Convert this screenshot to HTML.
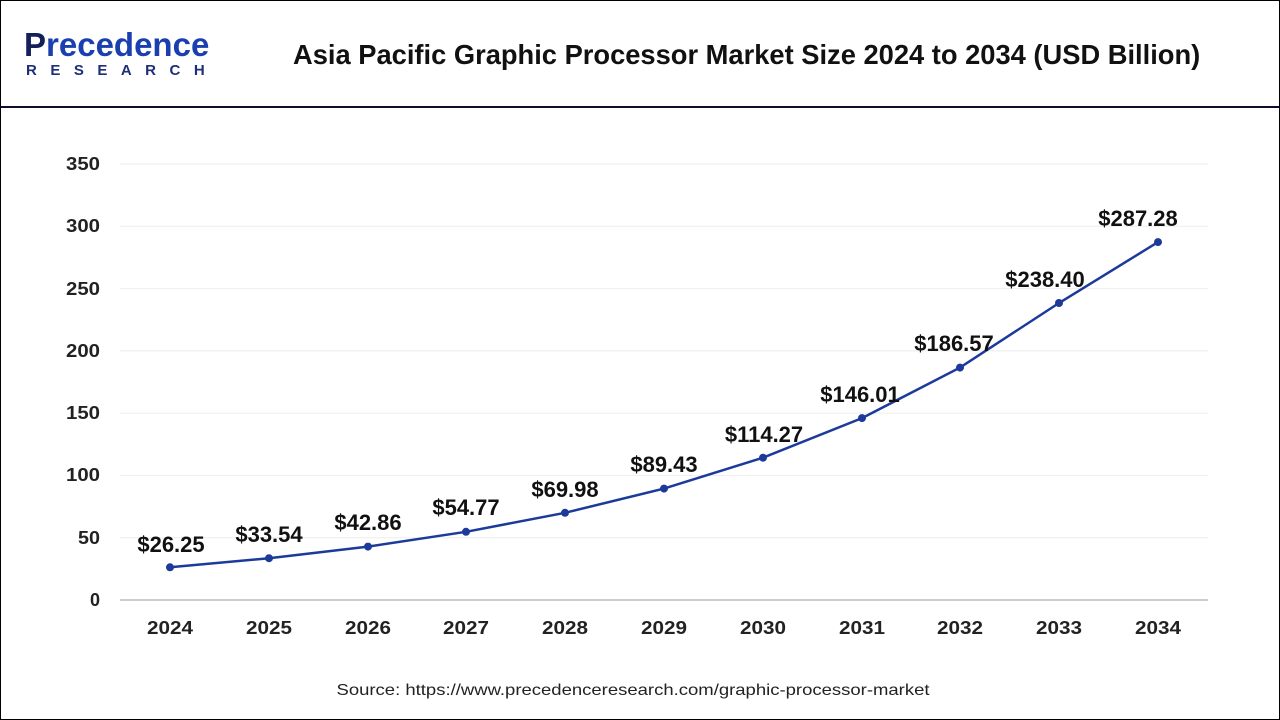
<!DOCTYPE html>
<html><head><meta charset="utf-8"><style>
body{margin:0;width:1280px;height:720px;background:#fff;font-family:"Liberation Sans",Arial,sans-serif;overflow:hidden}
.frame{position:absolute;left:0;top:0;width:1278px;height:718px;border:1px solid #000}
</style></head><body>
<div class="frame"></div>
<div style="position:absolute;left:1px;top:106px;width:1278px;height:2px;background:#0d0d2e"></div>
<div style="position:absolute;left:24px;top:28px;font-size:33px;font-weight:bold;color:#1a3fae;line-height:34px"><span style="color:#14205a">P</span>recedence</div>
<div style="position:absolute;left:26px;top:62px;font-size:15px;font-weight:bold;color:#1e2f7a;letter-spacing:13.5px">RESEARCH</div>
<div style="position:absolute;left:293px;top:39px;font-size:27.3px;font-weight:bold;color:#111;white-space:nowrap">Asia Pacific Graphic Processor Market Size 2024 to 2034 (USD Billion)</div>
<svg width="1280" height="720" style="position:absolute;left:0;top:0" font-family="Liberation Sans,Arial,sans-serif">
<g stroke="#eee" stroke-width="1">
<line x1="120" x2="1208" y1="164" y2="164"/><line x1="120" x2="1208" y1="226.3" y2="226.3"/><line x1="120" x2="1208" y1="288.6" y2="288.6"/><line x1="120" x2="1208" y1="350.9" y2="350.9"/><line x1="120" x2="1208" y1="413.1" y2="413.1"/><line x1="120" x2="1208" y1="475.4" y2="475.4"/><line x1="120" x2="1208" y1="537.7" y2="537.7"/>
</g>
<line x1="120" x2="1208" y1="600" y2="600" stroke="#bbb" stroke-width="1.5"/>
<g font-size="18" font-weight="bold" fill="#222" text-anchor="end" lengthAdjust="spacingAndGlyphs">
<text x="100" y="170" textLength="34" lengthAdjust="spacingAndGlyphs">350</text><text x="100" y="232" textLength="34" lengthAdjust="spacingAndGlyphs">300</text><text x="100" y="295" textLength="34" lengthAdjust="spacingAndGlyphs">250</text><text x="100" y="357" textLength="34" lengthAdjust="spacingAndGlyphs">200</text><text x="100" y="419" textLength="34" lengthAdjust="spacingAndGlyphs">150</text><text x="100" y="481" textLength="34" lengthAdjust="spacingAndGlyphs">100</text><text x="100" y="544" textLength="22" lengthAdjust="spacingAndGlyphs">50</text><text x="100" y="606">0</text>
</g>
<g font-size="18" font-weight="bold" fill="#222" text-anchor="middle">
<text x="170" y="634" textLength="46" lengthAdjust="spacingAndGlyphs">2024</text><text x="269" y="634" textLength="46" lengthAdjust="spacingAndGlyphs">2025</text><text x="368" y="634" textLength="46" lengthAdjust="spacingAndGlyphs">2026</text><text x="466" y="634" textLength="46" lengthAdjust="spacingAndGlyphs">2027</text><text x="565" y="634" textLength="46" lengthAdjust="spacingAndGlyphs">2028</text><text x="664" y="634" textLength="46" lengthAdjust="spacingAndGlyphs">2029</text><text x="763" y="634" textLength="46" lengthAdjust="spacingAndGlyphs">2030</text><text x="862" y="634" textLength="46" lengthAdjust="spacingAndGlyphs">2031</text><text x="960" y="634" textLength="46" lengthAdjust="spacingAndGlyphs">2032</text><text x="1059" y="634" textLength="46" lengthAdjust="spacingAndGlyphs">2033</text><text x="1158" y="634" textLength="46" lengthAdjust="spacingAndGlyphs">2034</text>
</g>
<polyline fill="none" stroke="#1c3a9a" stroke-width="2.5" points="170,567.3 269,558.2 368,546.6 466,531.8 565,512.8 664,488.6 763,457.7 862,418.1 960,367.6 1059,303 1158,242.1"/>
<g fill="#1c3a9a">
<circle cx="170" cy="567.3" r="4"/><circle cx="269" cy="558.2" r="4"/><circle cx="368" cy="546.6" r="4"/><circle cx="466" cy="531.8" r="4"/><circle cx="565" cy="512.8" r="4"/><circle cx="664" cy="488.6" r="4"/><circle cx="763" cy="457.7" r="4"/><circle cx="862" cy="418.1" r="4"/><circle cx="960" cy="367.6" r="4"/><circle cx="1059" cy="303" r="4"/><circle cx="1158" cy="242.1" r="4"/>
</g>
<g font-size="22" font-weight="bold" fill="#111" text-anchor="middle">
<text x="171" y="552">$26.25</text><text x="269" y="542">$33.54</text><text x="368" y="530">$42.86</text><text x="466" y="515">$54.77</text><text x="565" y="497">$69.98</text><text x="664" y="472">$89.43</text><text x="764" y="442">$114.27</text><text x="860" y="402">$146.01</text><text x="954" y="351">$186.57</text><text x="1045" y="287">$238.40</text><text x="1138" y="226">$287.28</text>
</g>
<text x="633" y="695" font-size="16" fill="#222" text-anchor="middle" textLength="593" lengthAdjust="spacingAndGlyphs">Source: https://www.precedenceresearch.com/graphic-processor-market</text>
</svg>
</body></html>
